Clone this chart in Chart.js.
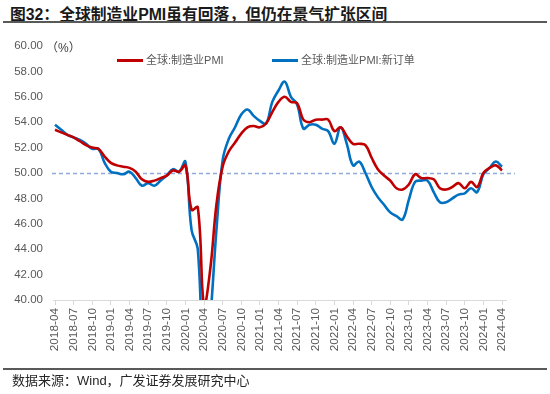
<!DOCTYPE html>
<html lang="zh">
<head>
<meta charset="UTF-8" />
<title>全球制造业PMI</title>
<script src="https://cdn.jsdelivr.net/npm/chart.js"></script>
<style>
  body { margin: 0; background: #fff; font-family: "Liberation Sans", "Noto Sans CJK SC", sans-serif; }
  #wrap { position: relative; width: 550px; height: 394px; overflow: hidden; }
  #chart { position: absolute; left: 0; top: 0; }
  .title { position: absolute; left: 10px; top: 2px; font-size: 15.8px; font-weight: bold; color: #1a1a1a; white-space: nowrap; }
  .rule { position: absolute; left: 3px; width: 544px; height: 2px; background: #595959; }
  .unit { position: absolute; left: 46px; top: 38px; font-size: 12px; color: #404040; }
  .legend { position: absolute; top: 51px; font-size: 11px; color: #595959; white-space: nowrap; }
  .legend span { display: inline-block; width: 26px; height: 3px; vertical-align: middle; margin-right: 3px; position: relative; top: -1px; }
  .source { position: absolute; left: 12px; top: 370px; font-size: 13px; color: #262626; white-space: nowrap; }
</style>
</head>
<body>
<div id="wrap">
  <div class="title">图32：全球制造业PMI虽有回落，但仍在景气扩张区间</div>
  <div class="rule" style="top:21px"></div>
  <canvas id="chart" width="550" height="394"></canvas>
  <div class="unit">（%）</div>
  <div class="legend" style="left:117px"><span style="background:#c00000"></span>全球:制造业PMI</div>
  <div class="legend" style="left:272px"><span style="background:#0070c0"></span>全球:制造业PMI:新订单</div>
  <div class="rule" style="top:368px"></div>
  <div class="source">数据来源：Wind，广发证券发展研究中心</div>
</div>

<script>
const months = [
  '2018-04','2018-05','2018-06','2018-07','2018-08','2018-09','2018-10','2018-11','2018-12',
  '2019-01','2019-02','2019-03','2019-04','2019-05','2019-06','2019-07','2019-08','2019-09','2019-10','2019-11','2019-12',
  '2020-01','2020-02','2020-03','2020-04','2020-05','2020-06','2020-07','2020-08','2020-09','2020-10','2020-11','2020-12',
  '2021-01','2021-02','2021-03','2021-04','2021-05','2021-06','2021-07','2021-08','2021-09','2021-10','2021-11','2021-12',
  '2022-01','2022-02','2022-03','2022-04','2022-05','2022-06','2022-07','2022-08','2022-09','2022-10','2022-11','2022-12',
  '2023-01','2023-02','2023-03','2023-04','2023-05','2023-06','2023-07','2023-08','2023-09','2023-10','2023-11','2023-12',
  '2024-01','2024-02','2024-03','2024-04'
];

// 全球:制造业PMI
const pmi = [
  53.4, 53.2, 53.0, 52.8, 52.5, 52.2, 52.0, 51.9, 51.3,
  50.8, 50.6, 50.5, 50.4, 50.1, 49.5, 49.3, 49.4, 49.6, 49.8, 50.2, 50.1,
  50.6, 47.1, 47.3, 39.6, 42.4, 47.5, 50.5, 51.7, 52.4, 53.1, 53.6, 53.7,
  53.6, 53.9, 54.8, 55.6, 56.0, 55.6, 55.5, 54.2, 54.0, 54.2, 54.2, 54.2,
  53.3, 53.6, 52.9, 52.3, 52.3, 52.2, 51.2, 50.3, 49.8, 49.4, 48.8, 48.7,
  49.1, 49.9, 49.6, 49.6, 49.5, 48.8, 48.7, 48.9, 49.2, 48.8, 49.3, 48.9,
  50.0, 50.4, 50.6, 50.2
];

// 全球:制造业PMI:新订单
const newOrders = [
  53.8, 53.4, 53.0, 52.8, 52.6, 52.3, 51.9, 51.9, 50.8,
  50.1, 50.0, 49.9, 50.1, 49.6, 49.0, 49.2, 49.0, 49.4, 49.8, 50.3, 50.1,
  50.9, 45.5, 44.0, 34.0, 38.5, 45.5, 51.0, 52.7, 53.6, 54.6, 55.0, 54.5,
  54.1, 53.9, 55.6, 56.5, 57.2, 56.0, 55.4, 53.5, 53.8, 53.8, 53.5, 53.3,
  52.3, 53.6, 52.3, 50.6, 50.9, 50.0, 48.9, 48.1, 47.5, 46.9, 46.6, 46.35,
  47.9, 49.3, 49.4, 49.4, 48.5, 47.7, 47.7, 48.0, 48.3, 48.4, 48.8, 48.5,
  49.9, 50.4, 50.9, 50.5
];

const yTicks = [40, 42, 44, 46, 48, 50, 52, 54, 56, 58, 60];
const refLine = 50;

// dashed 50 line and the x axis line, both a little wider than the plot
const extras = {
  id: 'extras',
  beforeDatasetsDraw(chart) {
    const { ctx, chartArea: a, scales: { y } } = chart;
    const yy = Math.round(y.getPixelForValue(refLine)) + 0.5;
    ctx.save();
    ctx.strokeStyle = '#8faadc';
    ctx.lineWidth = 1.3;
    ctx.setLineDash([4, 3]);
    ctx.beginPath();
    ctx.moveTo(a.left - 3, yy);
    ctx.lineTo(a.right + 13, yy);
    ctx.stroke();
    ctx.setLineDash([]);
    ctx.strokeStyle = '#d9d9d9';
    ctx.lineWidth = 1;
    ctx.beginPath();
    ctx.moveTo(a.left - 2, a.bottom + 0.5);
    ctx.lineTo(a.right + 5, a.bottom + 0.5);
    ctx.stroke();
    ctx.restore();
  }
};

new Chart(document.getElementById('chart'), {
  type: 'line',
  data: {
    labels: months,
    datasets: [
      { label: '全球:制造业PMI', data: pmi, borderColor: '#c00000', borderWidth: 2.6, tension: 0.4, pointRadius: 0 },
      { label: '全球:制造业PMI:新订单', data: newOrders, borderColor: '#0070c0', borderWidth: 2.6, tension: 0.4, pointRadius: 0 }
    ]
  },
  options: {
    responsive: false,
    animation: false,
    layout: { padding: { left: 0, right: 48, top: 46, bottom: 0 } },
    plugins: { legend: { display: false }, tooltip: { enabled: false } },
    scales: {
      x: {
        afterFit: s => { s.height = 94; },
        border: { display: false },
        grid: {
          drawOnChartArea: false,
          drawTicks: true,
          tickLength: 5,
          color: c => (c.index % 3 === 0 ? '#d9d9d9' : 'rgba(0,0,0,0)')
        },
        ticks: {
          autoSkip: false,
          minRotation: 90,
          maxRotation: 90,
          padding: 3,
          color: '#595959',
          font: { family: 'Liberation Sans', size: 11.8 },
          callback: (v, i) => (i % 3 === 0 ? months[i] : '')
        }
      },
      y: {
        min: yTicks[0],
        max: yTicks[yTicks.length - 1],
        afterFit: s => { s.width = 55; },
        afterBuildTicks: s => { s.ticks = yTicks.map(v => ({ value: v })); },
        border: { display: false },
        grid: { display: false, drawTicks: false },
        ticks: {
          padding: 12,
          color: '#595959',
          font: { family: 'Liberation Sans', size: 11.5 },
          callback: v => Number(v).toFixed(2)
        }
      }
    }
  },
  plugins: [extras]
});
</script>
</body>
</html>
